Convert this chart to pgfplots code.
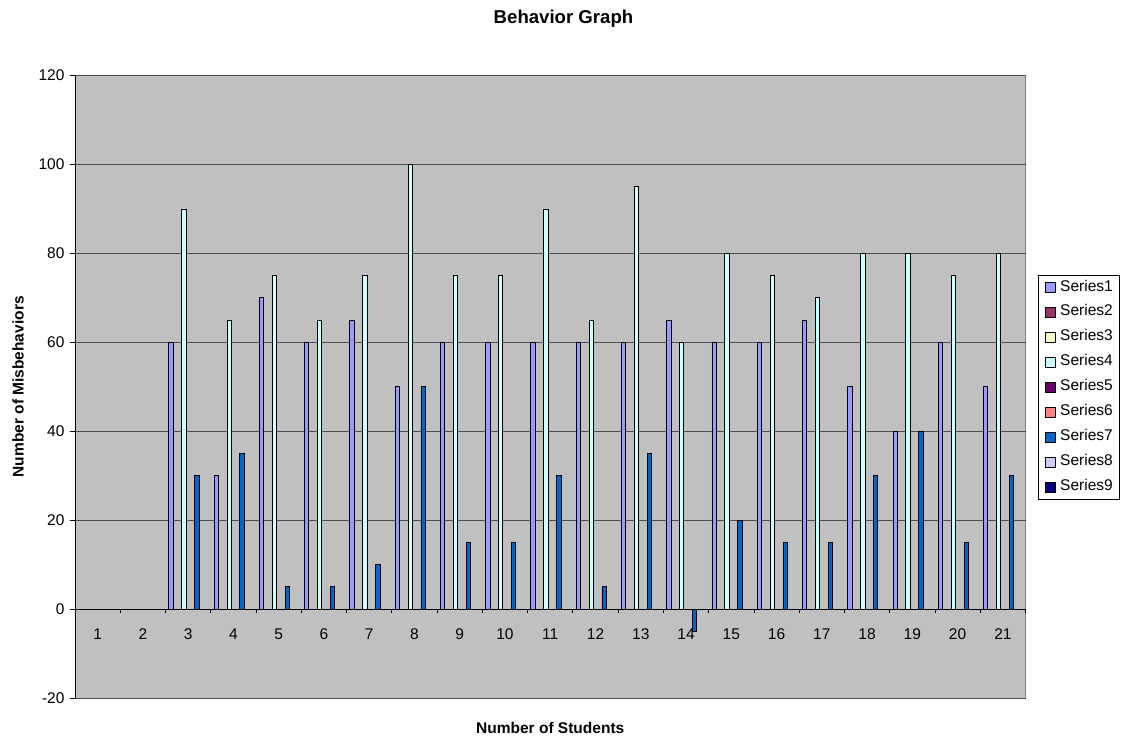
\documentclass[border=0pt]{standalone}
\usepackage{pgfplots}
\usepackage{pgfplotstable}
\pgfplotsset{compat=1.18}
\usepackage{fontspec}
\setmainfont{Liberation Sans}

% Classic spreadsheet palette
\definecolor{plotbg}{HTML}{C0C0C0}
\definecolor{frame}{HTML}{808080}
\definecolor{sA}{HTML}{9999FF}
\definecolor{sB}{HTML}{993366}
\definecolor{sC}{HTML}{FFFFCC}
\definecolor{sD}{HTML}{CCFFFF}
\definecolor{sE}{HTML}{660066}
\definecolor{sF}{HTML}{FF8080}
\definecolor{sG}{HTML}{0066CC}
\definecolor{sH}{HTML}{CCCCFF}
\definecolor{sI}{HTML}{000080}

% Misbehaviour counts per student (nan = no bar)
\pgfplotstableread{
student s1  s4  s7
1       nan nan nan
2       nan nan nan
3       60  90  30
4       30  65  35
5       70  75  5
6       60  65  5
7       65  75  10
8       50  100 50
9       60  75  15
10      60  75  15
11      60  90  30
12      60  65  5
13      60  95  35
14      65  60  -5
15      60  80  20
16      60  75  15
17      65  70  15
18      50  80  30
19      40  80  40
20      60  75  15
21      50  80  30
}\behavior

\newcommand{\bw}{0.095238}

\pgfplotsset{
  sq legend/.style={legend image code/.code={\draw[##1,draw=black,line width=0.8pt] (0pt,-5pt) rectangle (10pt,5pt);}},
  mybar/.style={ybar, bar width=\bw, draw=black, line width=0.8pt, fill=#1, sq legend},
}

\begin{document}
\begin{tikzpicture}
\path[use as bounding box] (0,0) rectangle (1127pt,-740pt);

\node[anchor=base, font=\fontsize{18.6}{22}\selectfont\bfseries] at (563.5pt,-23pt) {Behavior Graph};
\node[anchor=base, font=\fontsize{15.5}{18}\selectfont\bfseries] at (550.25pt,-733.5pt) {Number of Students};
\node[anchor=base, rotate=90, font=\fontsize{15.5}{18}\selectfont\bfseries] at (23.5pt,-386.75pt) {Number of Misbehaviors};

\begin{axis}[
  at={(75pt,-698pt)}, anchor=south west,
  scale only axis, width=950.5pt, height=622.5pt,
  xmin=0.5, xmax=21.5, ymin=-20, ymax=120,
  axis x line*=middle, axis y line*=left,
  axis line style={black, line width=0.8pt, -},
  axis background/.style={fill=plotbg, draw=frame, line width=1pt},
  ymajorgrids, grid style={black!70, line width=0.8pt},
  ytick={-20,0,...,120},
  xtick={1,...,21}, major x tick style={draw=none},
  minor xtick={0.5,1.5,...,21.5},
  tick align=outside,
  major tick length=5pt, minor tick length=4pt,
  tick style={black, line width=0.8pt},
  /pgf/number format/assume math mode=true,
  ticklabel style={font=\fontsize{15.5}{18}\selectfont},
  yticklabel style={xshift=-2pt},
  xticklabel style={yshift=-11pt},
  legend cell align=left,
  legend style={
    at={(1.01315,0.67952)}, anchor=north west,
    draw=black, fill=white, line width=0.8pt,
    inner xsep=7pt, inner ysep=4.4pt,
    row sep=8.9pt, column sep=4pt,
    font=\fontsize{15.5}{18}\selectfont,
    nodes={inner sep=0pt, text height=11.2pt, text depth=4.8pt},
  },
]
\addplot[mybar=sA, bar shift=-4*\bw] table[x=student, y=s1] {\behavior};
\addlegendentry{Series1}
\addlegendimage{sq legend, fill=sB}
\addlegendentry{Series2}
\addlegendimage{sq legend, fill=sC}
\addlegendentry{Series3}
\addplot[mybar=sD, bar shift=-1*\bw] table[x=student, y=s4] {\behavior};
\addlegendentry{Series4}
\addlegendimage{sq legend, fill=sE}
\addlegendentry{Series5}
\addlegendimage{sq legend, fill=sF}
\addlegendentry{Series6}
\addplot[mybar=sG, bar shift=2*\bw] table[x=student, y=s7] {\behavior};
\addlegendentry{Series7}
\addlegendimage{sq legend, fill=sH}
\addlegendentry{Series8}
\addlegendimage{sq legend, fill=sI}
\addlegendentry{Series9}
\end{axis}
\end{tikzpicture}
\end{document}
